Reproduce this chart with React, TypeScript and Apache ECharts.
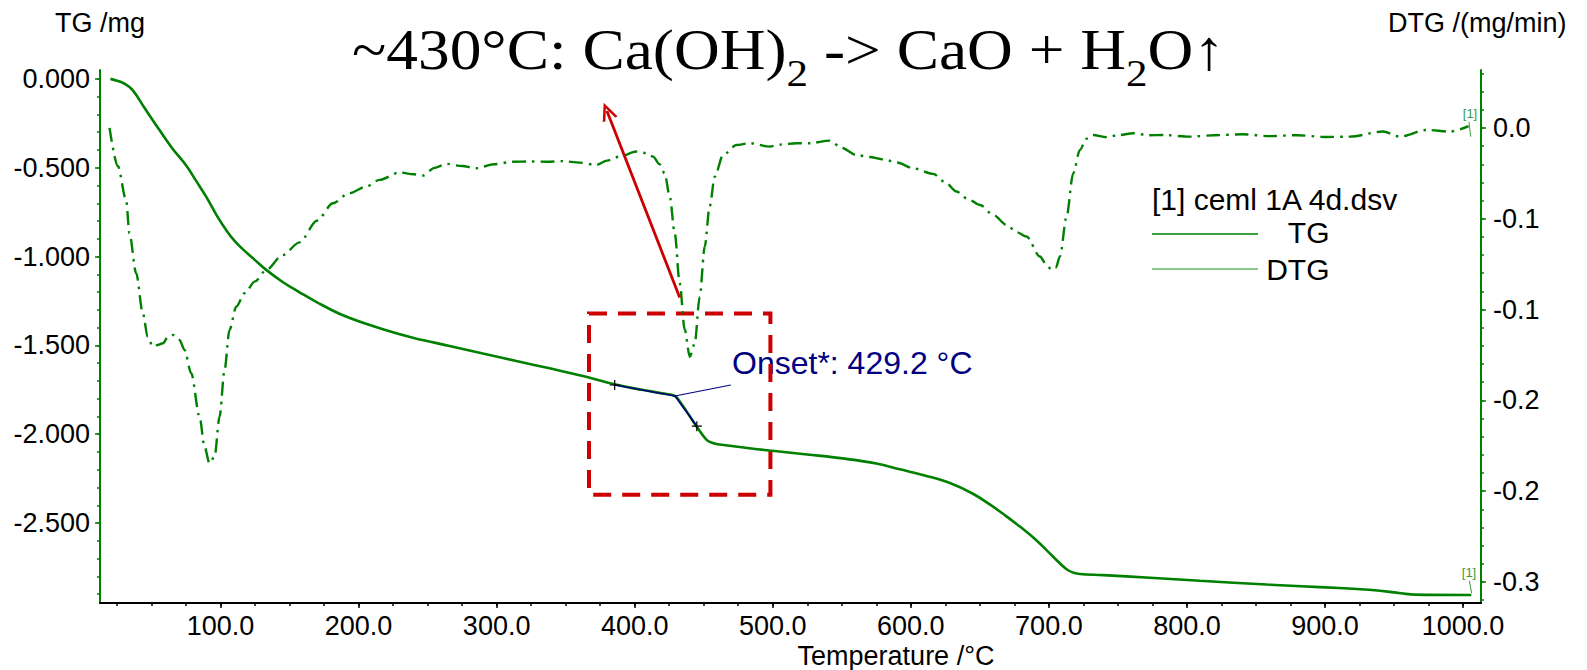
import React, { useEffect, useRef } from 'react';
import * as echarts from 'echarts';

// ---------- DATA ----------
// TG curve: [temperature °C, mass change mg]
const tgData: [number, number][] = [
  [20.3, 0], [25, -0.01], [30, -0.025], [36.2, -0.062], [45, -0.164], [55.8, -0.288], [65, -0.39],
  [75.4, -0.49], [82, -0.57], [89.9, -0.667], [97, -0.765], [104.3, -0.853], [110, -0.91],
  [115.9, -0.957], [125, -1.02], [133.1, -1.075], [145, -1.143], [157.2, -1.201], [169.3, -1.255],
  [190, -1.335], [217.6, -1.409], [240, -1.458], [265.9, -1.503], [290, -1.546], [314.3, -1.588],
  [340, -1.632], [362.6, -1.672], [385.5, -1.719], [405, -1.75], [420, -1.77], [429.2, -1.785],
  [433, -1.82], [437.5, -1.87], [444.7, -1.955], [451.9, -2.03], [456, -2.048], [461.6, -2.058],
  [480, -2.076], [497.8, -2.092], [525, -2.114], [553.4, -2.139], [575, -2.165], [592, -2.197],
  [610, -2.232], [628.3, -2.275], [645, -2.335], [657.2, -2.395], [668, -2.455], [679, -2.52],
  [691.1, -2.598], [703.1, -2.69], [712.8, -2.76], [718, -2.78], [722.5, -2.787], [739.3, -2.793],
  [773.2, -2.808], [809.4, -2.825], [857.8, -2.846], [900, -2.862], [934, -2.877], [955, -2.895],
  [965, -2.903], [1006, -2.905],
];

// DTG curve: [temperature °C, mg/min]
const dtgData: [number, number][] = [
  [19.6, 0.0], [25.6, -0.021], [31.7, -0.04], [34, -0.058], [38.9, -0.08], [43.7, -0.102],
  [47.3, -0.115], [50.9, -0.1204], [54.5, -0.1195], [58.2, -0.1186], [62, -0.115], [65.4, -0.114],
  [70.3, -0.1167], [73.9, -0.1222], [78.8, -0.1351], [84.8, -0.159], [88.4, -0.1755], [92, -0.1847],
  [95.7, -0.181], [99.3, -0.159], [102.9, -0.1333], [106.5, -0.1112], [111.4, -0.0984], [117.4, -0.091],
  [125, -0.0845], [133.1, -0.0782], [145, -0.07], [157.2, -0.063], [170, -0.051], [181.4, -0.0415],
  [193, -0.036], [205.6, -0.0323], [215.2, -0.0286], [229.7, -0.0245], [240, -0.0255], [246.6, -0.0262],
  [255, -0.022], [263.5, -0.0198], [275, -0.021], [285.3, -0.0222], [298, -0.02], [311.8, -0.0186],
  [325, -0.0185], [336, -0.0186], [348, -0.0183], [360.1, -0.0191], [372.2, -0.0204], [380, -0.018],
  [389.1, -0.0158], [401.2, -0.013], [408, -0.0138], [413.3, -0.0158], [418, -0.02], [421.7, -0.025],
  [425.4, -0.0378], [429, -0.058], [432.6, -0.0855], [436.2, -0.111], [439.9, -0.126], [443.5, -0.1186],
  [447.1, -0.0929], [450.7, -0.0654], [454.3, -0.0433], [458, -0.0268], [464, -0.0149], [473.7, -0.0094],
  [483.3, -0.0084], [497.8, -0.0103], [505, -0.0092], [517.2, -0.0084], [526.8, -0.0084], [541.3, -0.007],
  [550, -0.011], [560.6, -0.0149], [570, -0.016], [579.9, -0.0173], [590, -0.019], [601.7, -0.0222],
  [616.2, -0.0253], [625, -0.03], [633.1, -0.035], [641, -0.039], [650, -0.0424], [660, -0.048],
  [669.3, -0.0534], [677, -0.0575], [683.8, -0.0598], [693.5, -0.0708], [698, -0.075], [702, -0.0782],
  [705, -0.077], [708, -0.0708], [712.8, -0.0488], [717.6, -0.025], [722.5, -0.0121], [727, -0.006],
  [732, -0.0039], [741.8, -0.0051], [750, -0.004], [761.1, -0.0029], [772, -0.004], [782.8, -0.0039],
  [802.2, -0.0048], [820, -0.004], [840, -0.0035], [860, -0.0045], [880, -0.004], [900, -0.005],
  [918, -0.0048], [942, -0.002], [954, -0.0048], [973.7, -0.0011], [990.6, -0.002], [1004, 0.001],
];

// Axis ranges and ticks
const xRange = [12.7, 1013];
const tgRange = [-2.95, 0.05];
const dtgRange = [-0.2616, 0.0319];
const xLabelTicks = [100, 200, 300, 400, 500, 600, 700, 800, 900, 1000];
const tgLabelTicks = [0, -0.5, -1, -1.5, -2, -2.5];
const dtgLabelTicks = [0, -0.05, -0.1, -0.15, -0.2, -0.25];
const dtgTickLabels = ['0.0', '-0.1', '-0.1', '-0.2', '-0.2', '-0.3'];
const xMinorTicks = Array.from({ length: 40 }, (_, i) => 25 * (i + 1));
const tgMinorTicks = Array.from({ length: 30 }, (_, i) => Math.round(-i) / 10);
const dtgMinorTicks = Array.from({ length: 30 }, (_, i) => Math.round(3 - i) / 100);

// Annotations (data coordinates on TG axis)
const onsetPoint = [429.2, -1.785];
const onsetTangentA = [385.5, -1.723];
const onsetTangentB = [445, -1.955];
const onsetPointer = [469.6, -1.723];
const arrowStart = [432.6, -1.23];
const arrowEnd = [379.9, -0.181];
const boxCorners = [[366.9, -1.32], [498.3, -2.341]];

const titleParts: [string, boolean][] = [
  ['~430°C: Ca(OH)', false], ['2', true], [' -> CaO + H', false], ['2', true], ['O↑', false],
];
const onsetText = 'Onset*: 429.2 °C';
const legendTitle = '[1] ceml 1A 4d.dsv';
const legendNames = ['TG', 'DTG'];

const SANS = '"Liberation Sans", Arial, sans-serif';
const SERIF = '"Liberation Serif", "Times New Roman", serif';
const GREEN = '#008000';

export default function App() {
  const ref = useRef<HTMLDivElement>(null);
  useEffect(() => {
    const el = ref.current!;
    const chart = echarts.init(el, null, { renderer: 'svg' });

    // Title with subscripts
    const ctx = document.createElement('canvas').getContext('2d')!;
    const mainSize = 56, subSize = 38;
    const titleLeft = 352, titleRight = 1225;
    let cx = 0;
    const titleChildren: any[] = titleParts.map(([txt, sub]) => {
      const size = sub ? subSize : mainSize;
      ctx.font = `${size}px ${SERIF}`;
      const w = ctx.measureText(txt).width;
      const item = {
        type: 'text', x: cx, y: sub ? 86 - 0.3375 * subSize : 69 - 0.3375 * mainSize,
        style: { text: txt, fontSize: size, fontFamily: SERIF, fill: '#000', align: 'left', verticalAlign: 'middle' },
      };
      cx += w;
      return item;
    });
    const titleScale = (titleRight - titleLeft) / cx;

    const txt = (text: string, x: number, y: number, size: number, align = 'left', fill = '#000', family = SANS) => ({
      type: 'text', x, y, silent: true,
      style: { text, fontSize: size, fontFamily: family, fill, align, verticalAlign: 'middle' },
    });
    const ln = (x1: number, y1: number, x2: number, y2: number, stroke: string, w = 1.2) => ({
      type: 'line', silent: true, shape: { x1, y1, x2, y2 }, style: { stroke, lineWidth: w },
    });

    const chevron = 'path://M0,18L8,0L16,18L13.2,18L8,6L2.8,18Z';

    const tickLabelStyle = { fontSize: 27, fontFamily: SANS, color: '#000' };
    const labelIdx = (arr: number[], v: number) => arr.findIndex((t) => Math.abs(t - v) < 1e-9);

    const option: any = {
      animation: false,
      backgroundColor: '#fff',
      grid: { left: 100, right: 106, top: 70, bottom: 67, containLabel: false },
      xAxis: [
        {
          type: 'value', min: xRange[0], max: xRange[1], position: 'bottom',
          axisLine: { show: true, onZero: false, lineStyle: { color: '#000', width: 2 } },
          axisTick: { show: true, inside: false, length: 5, customValues: xLabelTicks, lineStyle: { color: '#000', width: 1.5 } },
          axisLabel: { show: true, margin: 9, customValues: xLabelTicks, formatter: (v: number) => v.toFixed(1), ...tickLabelStyle },
          splitLine: { show: false },
        },
        {
          type: 'value', min: xRange[0], max: xRange[1], position: 'bottom',
          axisLine: { show: false, onZero: false },
          axisTick: { show: true, length: 3, customValues: xMinorTicks, lineStyle: { color: '#000', width: 1.5 } },
          axisLabel: { show: false },
          splitLine: { show: false },
        },
      ],
      yAxis: [
        {
          type: 'value', min: tgRange[0], max: tgRange[1], position: 'left',
          axisLine: { show: true, onZero: false, lineStyle: { color: GREEN, width: 2 } },
          axisTick: { show: true, length: 5, customValues: tgLabelTicks, lineStyle: { color: GREEN, width: 1.5 } },
          axisLabel: { show: true, margin: 10, customValues: tgLabelTicks, formatter: (v: number) => v.toFixed(3), ...tickLabelStyle },
          splitLine: { show: false },
        },
        {
          type: 'value', min: dtgRange[0], max: dtgRange[1], position: 'right',
          axisLine: { show: true, onZero: false, lineStyle: { color: GREEN, width: 2 } },
          axisTick: { show: true, length: 5, customValues: dtgLabelTicks, lineStyle: { color: GREEN, width: 1.5 } },
          axisLabel: {
            show: true, margin: 12, customValues: dtgLabelTicks,
            formatter: (v: number) => { const i = labelIdx(dtgLabelTicks, v); return i >= 0 ? dtgTickLabels[i] : ''; },
            ...tickLabelStyle,
          },
          splitLine: { show: false },
        },
        {
          type: 'value', min: tgRange[0], max: tgRange[1], position: 'left',
          axisLine: { show: false, onZero: false },
          axisTick: { show: true, length: 3, customValues: tgMinorTicks, lineStyle: { color: GREEN, width: 1.5 } },
          axisLabel: { show: false },
          splitLine: { show: false },
        },
        {
          type: 'value', min: dtgRange[0], max: dtgRange[1], position: 'right',
          axisLine: { show: false, onZero: false },
          axisTick: { show: true, length: 3, customValues: dtgMinorTicks, lineStyle: { color: GREEN, width: 1.5 } },
          axisLabel: { show: false },
          splitLine: { show: false },
        },
      ],
      series: [
        {
          name: 'TG', type: 'line', xAxisIndex: 0, yAxisIndex: 0, data: tgData, z: 3,
          showSymbol: false, smooth: 0.4,
          lineStyle: { color: GREEN, width: 2.6 }, itemStyle: { color: GREEN },
          markArea: {
            silent: true,
            label: { show: false },
            itemStyle: { color: 'rgba(0,0,0,0)', borderColor: '#CC0000', borderWidth: 4, borderType: [18, 11] },
            data: [[{ coord: boxCorners[0] }, { coord: boxCorners[1] }]],
          },
          markLine: {
            silent: true, animation: false, symbol: ['none', 'none'], label: { show: false },
            emphasis: { disabled: true },
            data: [
              [{ coord: onsetTangentA, symbol: 'none' }, { coord: onsetPoint, symbol: 'none', lineStyle: { color: '#000080', width: 1.6, type: 'solid' } }],
              [{ coord: onsetPoint, symbol: 'none' }, { coord: onsetTangentB, symbol: 'none', lineStyle: { color: '#000080', width: 1.6, type: 'solid' } }],
              [{ coord: onsetPoint, symbol: 'none' }, { coord: onsetPointer, symbol: 'none', lineStyle: { color: '#000080', width: 1.2, type: 'solid' } }],
              [{ coord: arrowStart, symbol: 'none' }, { coord: arrowEnd, symbol: chevron, symbolSize: [16, 18], lineStyle: { color: '#CC0000', width: 2.8, type: 'solid' } }],
            ],
          },
          markPoint: {
            silent: true, animation: false,
            symbol: 'path://M5,0L5,10M0,5L10,5', symbolSize: 10,
            itemStyle: { color: 'rgba(0,0,0,0)', borderColor: '#000', borderWidth: 1.2 },
            label: { show: false },
            data: [{ coord: onsetTangentA }, { coord: onsetTangentB }],
          },
        },
        {
          name: 'DTG', type: 'line', xAxisIndex: 0, yAxisIndex: 1, data: dtgData, z: 2,
          showSymbol: false, smooth: 0.3, smoothMonotone: 'x',
          lineStyle: { color: GREEN, width: 2.4, type: [14, 6, 2.5, 6] }, itemStyle: { color: GREEN },
        },
      ],
      graphic: [
        { type: 'group', x: titleLeft, y: 0, scaleX: titleScale, silent: true, children: titleChildren },
        txt('TG /mg', 55, 22.5, 27),
        txt('DTG /(mg/min)', 1388, 22.5, 27),
        txt('Temperature /°C', 896, 656, 27, 'center'),
        txt(onsetText, 732, 363, 32, 'left', '#000080'),
        txt(legendTitle, 1152, 199, 30),
        ln(1152, 234, 1258, 234, GREEN, 1.3),
        txt(legendNames[0], 1329.5, 232, 30, 'right'),
        ln(1152, 269, 1258, 269, '#66b866', 1.3),
        txt(legendNames[1], 1329.5, 269, 30, 'right'),
        txt('[1]', 1470, 113, 13, 'center', '#3a9a3a'),
        ln(1469, 121.7, 1470.7, 136.7, '#3a9a3a', 1),
        txt('[1]', 1469, 572.5, 13, 'center', '#3a9a3a'),
        ln(1469.3, 580.7, 1471.7, 593.3, '#3a9a3a', 1),
      ],
    };

    chart.setOption(option);
    return () => chart.dispose();
  }, []);

  return <div ref={ref} style={{ position: 'absolute', left: 0, top: 0, width: 1587, height: 670 }} />;
}
